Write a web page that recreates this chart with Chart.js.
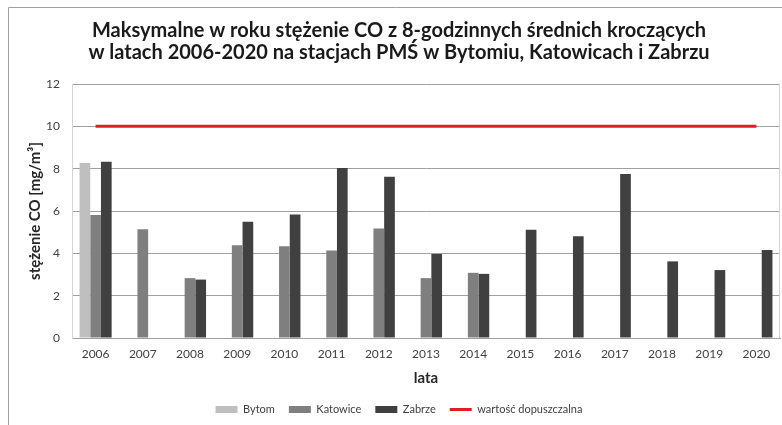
<!DOCTYPE html>
<html>
<head>
<meta charset="utf-8">
<script src="https://cdn.jsdelivr.net/npm/chart.js@4"></script>
<style>
  html, body { margin: 0; padding: 0; background: #ffffff; }
  #wrap { width: 782px; height: 425px; }
</style>
</head>
<body>
<div id="wrap"><canvas id="chart" width="782" height="425"></canvas></div>
<script>
// dane
const lata = ['2006', '2007', '2008', '2009', '2010', '2011', '2012', '2013', '2014', '2015', '2016', '2017', '2018', '2019', '2020'];
const bytom = [8.27, null, null, null, null, null, null, null, null, null, null, null, null, null, null];
const katowice = [5.81, 5.14, 2.83, 4.38, 4.33, 4.13, 5.17, 2.83, 3.08, null, null, null, null, null, null];
const zabrze = [8.33, null, 2.76, 5.49, 5.83, 8.03, 7.62, 3.97, 3.03, 5.11, 4.81, 7.75, 3.62, 3.21, 4.16];
const dopuszczalna = [10, 10, 10, 10, 10, 10, 10, 10, 10, 10, 10, 10, 10, 10, 10];
const yTicks = [0, 2, 4, 6, 8, 10, 12];

const czcionka = 'Lato, "Open Sans", sans-serif';
const czerwony = '#e31b23';

// ramka wokół wykresu i obramowanie obszaru kreślenia
const ramka = {
    id: 'ramka',
    beforeDraw(chart) {
        const ctx = chart.ctx;
        ctx.save();
        ctx.strokeStyle = '#a0a0a0';
        ctx.lineWidth = 1;
        ctx.beginPath();
        ctx.moveTo(8.5, 425);
        ctx.lineTo(8.5, 7.5);
        ctx.lineTo(782, 7.5);
        ctx.stroke();
        ctx.restore();
    },
    afterDatasetsDraw(chart) {
        const a = chart.chartArea;
        const ctx = chart.ctx;
        ctx.save();
        ctx.strokeStyle = '#d4d4d4';
        ctx.lineWidth = 1;
        ctx.beginPath();
        ctx.moveTo(Math.round(a.right) - 0.5, a.top);
        ctx.lineTo(Math.round(a.right) - 0.5, a.bottom);
        ctx.stroke();
        ctx.restore();
    }
};

new Chart(document.getElementById('chart'), {
    data: {
        labels: lata,
        datasets: [
            { type: 'bar', label: 'Bytom', data: bytom, backgroundColor: '#bfbfbf', order: 2 },
            { type: 'bar', label: 'Katowice', data: katowice, backgroundColor: '#7f7f7f', order: 2 },
            { type: 'bar', label: 'Zabrze', data: zabrze, backgroundColor: '#404040', order: 2 },
            {
                type: 'line', label: 'wartość dopuszczalna', data: dopuszczalna,
                borderColor: czerwony, backgroundColor: czerwony, borderWidth: 3,
                pointRadius: 0, order: 1
            }
        ]
    },
    options: {
        responsive: false,
        animation: false,
        devicePixelRatio: 1,
        layout: { padding: { left: 18, right: 2, top: 0, bottom: 0 } },
        datasets: {
            bar: { categoryPercentage: 0.68, barPercentage: 1 }
        },
        scales: {
            x: {
                grid: { display: false, drawTicks: false },
                border: { color: '#a0a0a0' },
                ticks: { color: '#404040', font: { family: czcionka, size: 12 }, padding: 9, maxRotation: 0 },
                title: { display: true, text: 'lata', color: '#262626', font: { family: czcionka, size: 15, weight: 'bold' }, padding: { top: 0, bottom: 3 } },
                afterFit(scale) { scale.height = 52; }
            },
            y: {
                min: 0, max: 12,
                afterBuildTicks(scale) { scale.ticks = yTicks.map(v => ({ value: v })); },
                grid: { color: '#a0a0a0', drawTicks: false },
                border: { color: '#d4d4d4' },
                ticks: { color: '#404040', font: { family: czcionka, size: 12 }, padding: 12 },
                title: { display: true, text: 'stężenie CO [mg/m³]', color: '#262626', font: { family: czcionka, size: 15, weight: 'bold' }, padding: { top: 8, bottom: 0 } },
                afterFit(scale) { scale.width = 54; }
            }
        },
        plugins: {
            title: {
                display: true,
                text: ['Maksymalne w roku stężenie CO z 8-godzinnych średnich kroczących', 'w latach 2006-2020 na stacjach PMŚ w Bytomiu, Katowicach i Zabrzu'],
                color: '#1a1a1a',
                font: { family: czcionka, size: 20, weight: 'bold', lineHeight: 1.1 },
                padding: { top: 20, bottom: 20 }
            },
            legend: {
                position: 'bottom',
                labels: {
                    color: '#404040',
                    font: { family: czcionka, size: 11 },
                    padding: 14,
                    boxWidth: 22,
                    boxHeight: 7,
                    usePointStyle: true,
                    pointStyleWidth: 22,
                    sort: (a, b) => a.datasetIndex - b.datasetIndex,
                    generateLabels(chart) {
                        const items = Chart.defaults.plugins.legend.labels.generateLabels(chart);
                        items.forEach(it => {
                            const ds = chart.data.datasets[it.datasetIndex];
                            if (ds.type === 'line') {
                                it.pointStyle = 'line';
                                it.lineWidth = 3;
                                it.strokeStyle = czerwony;
                            } else {
                                it.pointStyle = 'rect';
                                it.lineWidth = 0;
                            }
                        });
                        return items;
                    }
                }
            },
            tooltip: { enabled: false }
        }
    },
    plugins: [ramka]
});
</script>
</body>
</html>
